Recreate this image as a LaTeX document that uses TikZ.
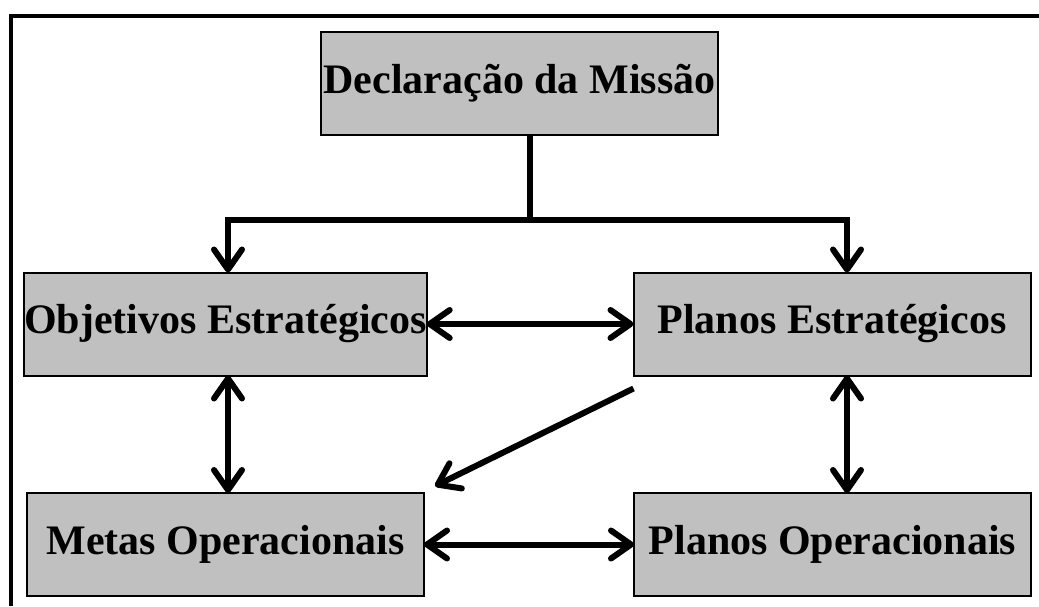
\documentclass[tikz,border=0pt]{standalone}
\usepackage{fontspec}
\setmainfont{Liberation Serif}
\usetikzlibrary{arrows.meta,calc}
\definecolor{boxgray}{HTML}{C0C0C0}
\tikzset{
  box/.style={draw=black, line width=2pt, fill=boxgray, minimum width=397pt, minimum height=103pt, inner sep=0pt, outer sep=0pt, font=\fontsize{42}{50}\selectfont\bfseries, text=black},
  tree/.style={line width=6.5pt},
  barb/.tip={Straight Barb[length=20pt,width=28pt,round]},
  arr/.style={line width=6pt, -barb},
  darr/.style={line width=6pt, barb-barb},
  frame/.style={line width=3.5pt},
}
\begin{document}
\begin{tikzpicture}[x=1pt,y=-1pt]
\useasboundingbox (0,0) rectangle (1039,606);
\draw[frame] (11,606) -- (11,16) -- (1039,16);

\node[box] (decl) at (519.5,83.5) {Declaração da Missão};
\node[box] (obj) at (225.5,324) {Objetivos Estratégicos};
\node[box] (pe) at (832,324) {Planos Estratégicos};
\node[box] (metas) at (225.5,544.5) {Metas Operacionais};
\node[box] (po) at (832.5,544.5) {Planos Operacionais};

\coordinate (j) at (530,220);
\draw[tree] (decl.south -| j) -- (j);
\draw[tree, -barb, line width=6pt] (j) -| ([xshift=2.5pt]obj.north);
\draw[tree, -barb, line width=6pt] (j) -| ([xshift=15pt]pe.north);

\draw[darr] (obj.east) -- (pe.west);
\draw[darr] (metas.east) -- (po.west);
\draw[darr] ([xshift=2.5pt]obj.south) -- ([xshift=2.5pt]metas.north);
\draw[darr] ([xshift=15pt]pe.south) -- ([xshift=14.5pt]po.north);
\draw[arr] ([yshift=-13pt]pe.south west) -- ($(metas.north east)+(11,-7)$);
\end{tikzpicture}
\end{document}
